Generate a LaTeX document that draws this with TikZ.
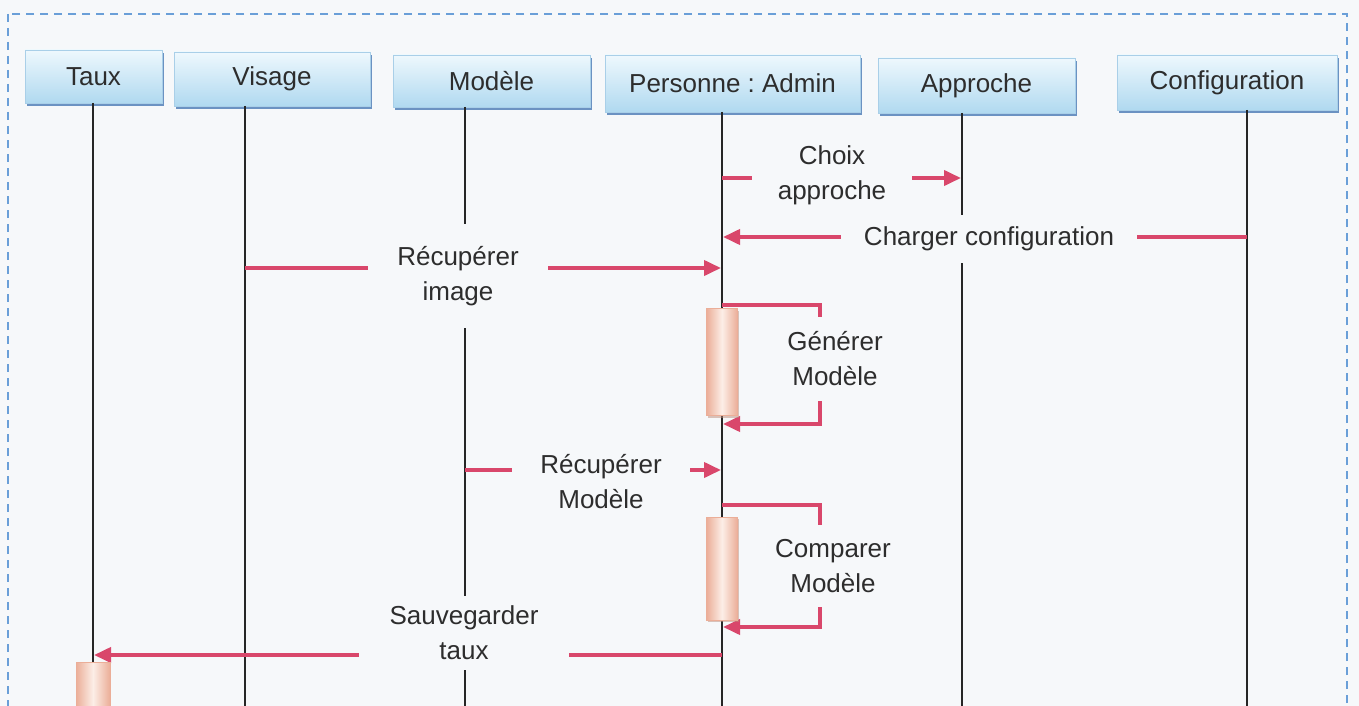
\documentclass[tikz,border=0pt]{standalone}
\usepackage{fontspec}
\setmainfont{Liberation Sans}
\frenchspacing
\usetikzlibrary{arrows.meta,shadows}
\definecolor{bg}{HTML}{F6F8FA}
\definecolor{msg}{HTML}{D9476B}
\definecolor{framec}{HTML}{6A9FD8}
\definecolor{hdtop}{HTML}{EEF8FD}
\definecolor{hdbot}{HTML}{B0D9F0}
\definecolor{hdedge}{HTML}{A9CFE8}
\definecolor{hdshadow}{HTML}{5C88BC}
\definecolor{actedge}{HTML}{EBAE98}
\definecolor{actmid}{HTML}{FCEEE7}
\definecolor{txt}{HTML}{2D2D2D}
\begin{document}
\begin{tikzpicture}[x=1pt,y=-1pt,
  header/.style={draw=hdedge, line width=0.8pt, top color=hdtop, bottom color=hdbot,
    text=txt, font=\fontsize{26}{30}\selectfont, inner sep=0pt,
    drop shadow={shadow xshift=1.5pt, shadow yshift=-3pt, fill=hdshadow, opacity=0.9}},
  lifeline/.style={line width=1.6pt, black!85},
  msgline/.style={draw=msg, line width=3.8pt},
  msgarrow/.style={msgline, -{Triangle[length=17pt,width=15pt]}},
  lbl/.style={fill=bg, text=txt, font=\fontsize{26}{35}\selectfont, align=center,
    inner xsep=26pt, inner ysep=12pt},
  act/.style={draw=actedge, line width=0.6pt, left color=actedge, right color=actedge,
    middle color=actmid, minimum width=31pt, inner sep=0pt,
    drop shadow={shadow xshift=1pt, shadow yshift=-2pt, fill=actedge!80!black, opacity=0.5}}
]
\useasboundingbox (0,0) rectangle (1359,706);
\clip (0,0) rectangle (1359,706);
\fill[bg] (0,0) rectangle (1359,706);
\draw[framec, line width=1.2pt, dash pattern=on 8pt off 6pt] (8,14) rectangle (1347,760);

% headers
\node[header, minimum width=137pt, minimum height=53pt] (taux) at (93.5,76.5) {Taux};
\node[header, minimum width=196pt, minimum height=54pt] (visage) at (272,79) {Visage};
\node[header, minimum width=197pt, minimum height=52pt] (modele) at (491.5,81) {Modèle};
\node[header, minimum width=255pt, minimum height=57pt] (personne) at (732.5,83.5) {Personne : Admin};
\node[header, minimum width=197pt, minimum height=55pt] (approche) at (976.5,85.5) {Approche};
\node[header, minimum width=220pt, minimum height=55pt] (config) at (1227,82.5) {Configuration};

% lifelines
\coordinate (tT) at (93,103);   \coordinate (tB) at (93,712);
\coordinate (vT) at (245,106);  \coordinate (vB) at (245,712);
\coordinate (mT) at (465,107);  \coordinate (mB) at (465,712);
\coordinate (pT) at (722,112);  \coordinate (pB) at (722,712);
\coordinate (aT) at (962,113);  \coordinate (aB) at (962,712);
\coordinate (cT) at (1247,110); \coordinate (cB) at (1247,712);
\foreach \a/\b in {tT/tB,vT/vB,mT/mB,pT/pB,aT/aB,cT/cB} \draw[lifeline] (\a) -- (\b);

% messages
\coordinate (m1a) at (722,178);  \coordinate (m1b) at (961,178);
\draw[msgarrow] (m1a) -- (m1b);
\coordinate (m2a) at (1247,237); \coordinate (m2b) at (723,237);
\draw[msgarrow] (m2a) -- (m2b);
\coordinate (m3a) at (245,268);  \coordinate (m3b) at (721,268);
\draw[msgarrow] (m3a) -- (m3b);
\coordinate (g1) at (722,305); \coordinate (g2) at (820,305);
\coordinate (g3) at (820,424); \coordinate (g4) at (723,424);
\draw[msgarrow] (g1) -- (g2) -- (g3) -- (g4);
\coordinate (m4a) at (465,470);  \coordinate (m4b) at (721,470);
\draw[msgarrow] (m4a) -- (m4b);
\coordinate (c1) at (722,505); \coordinate (c2) at (820,505);
\coordinate (c3) at (820,627); \coordinate (c4) at (723,627);
\draw[msgarrow] (c1) -- (c2) -- (c3) -- (c4);
\coordinate (m5a) at (722,655);  \coordinate (m5b) at (94,655);
\draw[msgarrow] (m5a) -- (m5b);

% activations
\node[act, minimum height=107pt] (act1) at (722,362) {};
\node[act, minimum height=103pt] (act2) at (722,568.5) {};
\node[act, minimum width=34pt, minimum height=60pt] (act3) at (93,692) {};

% labels
\node[lbl] (l1) at (832,175) {Choix\\approche};
\node[lbl, inner xsep=23pt] (l2) at (989,239) {Charger configuration};
\node[lbl, inner xsep=29pt, inner ysep=22pt] (l3) at (458,276) {Récupérer\\image};
\node[lbl, inner ysep=15pt] (l4) at (835,359) {Générer\\Modèle};
\node[lbl, inner xsep=28pt] (l5) at (601,482) {Récupérer\\Modèle};
\node[lbl, inner ysep=14pt] (l6) at (833,566) {Comparer\\Modèle};
\node[lbl, inner xsep=31pt, inner ysep=10pt] (l7) at (464,633) {Sauvegarder\\taux};
\end{tikzpicture}
\end{document}
